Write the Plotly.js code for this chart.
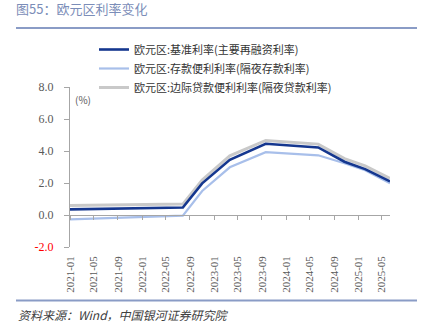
<!DOCTYPE html>
<html>
<head>
<meta charset="utf-8">
<script src="https://cdn.plot.ly/plotly-3.0.1.min.js"></script>
<style>html,body{margin:0;padding:0;background:#fff;}#chart{width:431px;height:330px;}</style>
</head>
<body>
<div id="chart"></div>
<script>
// Dates of the line vertices
const dates = ['2021-01-01','2022-07-27','2022-11-02','2023-03-22','2023-09-20','2024-06-12','2024-10-23','2025-02-05','2025-06-11'];
// 欧元区:基准利率(主要再融资利率)
const mroRate = [0.35, 0.47, 1.98, 3.45, 4.45, 4.22, 3.33, 2.87, 2.10];
// 欧元区:存款便利利率(隔夜存款利率)
const depositRate = [-0.27, -0.04, 1.50, 2.98, 3.93, 3.73, 3.23, 2.80, 1.98];
// 欧元区:边际贷款便利利率(隔夜贷款利率)
const marginalRate = [0.60, 0.68, 2.19, 3.70, 4.66, 4.43, 3.52, 3.07, 2.29];

const seriesNames = ['欧元区:基准利率(主要再融资利率)','欧元区:存款便利利率(隔夜存款利率)','欧元区:边际贷款便利利率(隔夜贷款利率)'];
const yTickVals = [-2, 0, 2, 4, 6, 8];
const yTickText = ['<span style="color:#ff0000">-2.0</span>','0.0','2.0','4.0','6.0','8.0'];
const xRange = ['2021-01-01','2025-06-11'];

const cjk = '"Noto Sans CJK SC", "Noto Sans", sans-serif';
const num = '"Liberation Serif", "DejaVu Serif", serif';

const traces = [
  {x: dates, y: marginalRate, name: seriesNames[2], type: 'scatter', mode: 'lines',
   line: {color: '#c9c9c9', width: 3}, legendrank: 3, xaxis: 'x', yaxis: 'y'},
  {x: dates, y: depositRate, name: seriesNames[1], type: 'scatter', mode: 'lines',
   line: {color: '#a8bfea', width: 2.2}, legendrank: 2, xaxis: 'x', yaxis: 'y'},
  {x: dates, y: mroRate, name: seriesNames[0], type: 'scatter', mode: 'lines',
   line: {color: '#15378f', width: 2.6}, legendrank: 1, xaxis: 'x2', yaxis: 'y'}
];

const layout = {
  width: 431, height: 330,
  margin: {l: 70, r: 41, t: 87, b: 83, autoexpand: false},
  paper_bgcolor: '#ffffff', plot_bgcolor: '#ffffff',
  showlegend: true,
  font: {family: cjk, size: 11, color: '#404040'},
  title: {text: '图55：欧元区利率变化', x: 16/431, xref: 'container', xanchor: 'left',
          y: 1 - 5/330, yref: 'container', yanchor: 'top',
          font: {family: cjk, size: 13, color: '#7b8db8'}},
  legend: {x: (94-70)/320, xref: 'paper', xanchor: 'left', y: (247-35)/160, yref: 'paper', yanchor: 'top',
           font: {family: cjk, size: 11, color: '#333333'}, bgcolor: 'rgba(0,0,0,0)', tracegroupgap: 0},
  xaxis: {type: 'date', range: xRange, tick0: '2021-01-01', dtick: 'M4', tickformat: '%Y-%m',
          tickangle: -90, showline: false, ticks: '', showgrid: false, zeroline: false,
          ticklabelstandoff: 6, tickfont: {family: num, size: 11, color: '#595959'}},
  xaxis2: {type: 'date', range: xRange, tick0: '2021-01-01', dtick: 'M4', overlaying: 'x',
           anchor: 'free', position: 0.2, showline: true, linecolor: '#a6a6a6', linewidth: 1,
           ticks: 'outside', ticklen: 4, tickcolor: '#a6a6a6', showticklabels: false,
           showgrid: false, zeroline: false},
  yaxis: {range: [-2, 8], tickvals: yTickVals, ticktext: yTickText, showline: true,
          linecolor: '#a6a6a6', linewidth: 1, ticks: 'outside', ticklen: 5, tickcolor: '#a6a6a6',
          showgrid: false, zeroline: false, ticklabelstandoff: 8,
          tickfont: {family: num, size: 12, color: '#595959'}},
  annotations: [
    {text: '(%)', xref: 'paper', yref: 'paper', x: 0.01, y: 0.92, xanchor: 'left', yanchor: 'middle',
     showarrow: false, font: {family: cjk, size: 10, color: '#595959'}},
    {text: '<i>资料来源：Wind，中国银河证券研究院</i>', xref: 'paper', yref: 'paper',
     x: (16-70)/320, y: (247-314)/160, xanchor: 'left', yanchor: 'middle', showarrow: false,
     font: {family: cjk, size: 12, color: '#404040'}}
  ],
  shapes: [
    {type: 'line', xref: 'paper', yref: 'paper', x0: (16-70)/320, x1: (417-70)/320,
     y0: (247-28)/160, y1: (247-28)/160, line: {color: '#8a9cc6', width: 2}},
    {type: 'line', xref: 'paper', yref: 'paper', x0: (16-70)/320, x1: (417-70)/320,
     y0: (247-300.5)/160, y1: (247-300.5)/160, line: {color: '#8a9cc6', width: 2}}
  ]
};

Plotly.newPlot('chart', traces, layout, {displayModeBar: false, staticPlot: true});
</script>
</body>
</html>
